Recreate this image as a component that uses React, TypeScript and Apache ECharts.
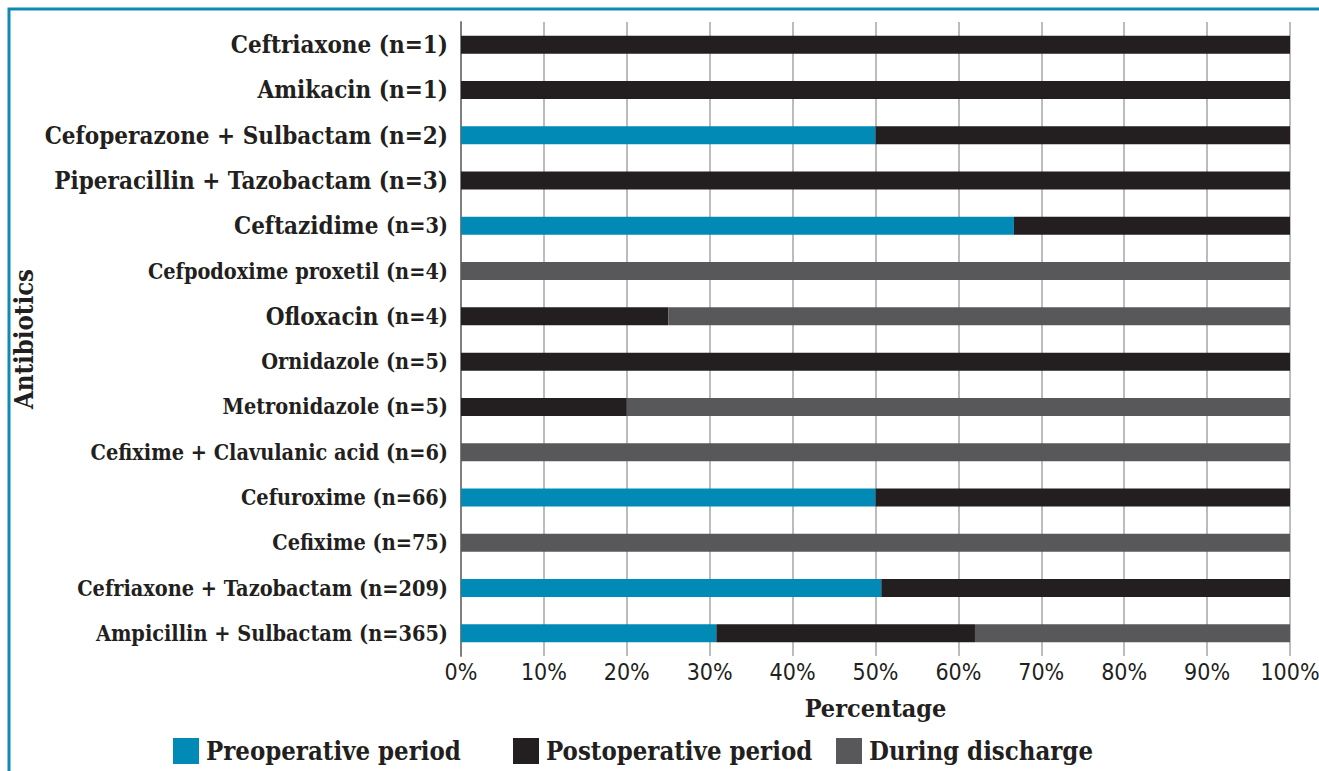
import React, { useEffect, useRef } from "react";
import * as echarts from "echarts";

const drugs = [
  "Ceftriaxone",
  "Amikacin",
  "Cefoperazone + Sulbactam",
  "Piperacillin + Tazobactam",
  "Ceftazidime",
  "Cefpodoxime proxetil",
  "Ofloxacin",
  "Ornidazole",
  "Metronidazole",
  "Cefixime + Clavulanic acid",
  "Cefuroxime",
  "Cefixime",
  "Cefriaxone + Tazobactam",
  "Ampicillin + Sulbactam",
];
const counts = [1, 1, 2, 3, 3, 4, 4, 5, 5, 6, 66, 75, 209, 365];
const preoperative = [0, 0, 50, 0, 66.7, 0, 0, 0, 0, 0, 50, 0, 50.7, 30.8];
const postoperative = [100, 100, 50, 100, 33.3, 0, 25, 100, 20, 0, 50, 0, 49.3, 31.2];
const discharge = [0, 0, 0, 0, 0, 100, 75, 0, 80, 100, 0, 100, 0, 38.0];
const seriesNames = ["Preoperative period", "Postoperative period", "During discharge"];

// label style keys per row (name part, count part)
const nameStyle = ["b", "b", "b", "b", "b", "s", "b", "s", "s", "s", "s", "s", "s", "s"];
const countStyle = ["b", "b", "b", "b", "s", "s", "s", "s", "s", "s", "s", "s", "s", "s"];

const SERIF = "'DejaVu Serif Condensed', 'DejaVu Serif', serif";
const NARROW = "'Liberation Sans Narrow', 'DejaVu Sans Condensed', 'Roboto', sans-serif";
const INK = "#231f20";
const COLORS = ["#008ab5", "#231f20", "#58585a"];

export default function App() {
  const ref = useRef<HTMLDivElement>(null);
  useEffect(() => {
    if (!ref.current) return;
    const chart = echarts.init(ref.current, undefined, { renderer: "svg" });
    const categories = drugs.map((d, i) => `${d}|(n=${counts[i]})`);
    const lists = [preoperative, postoperative, discharge];
    chart.setOption({
      animation: false,
      backgroundColor: "#ffffff",
      graphic: [
        {
          type: "rect",
          shape: { x: 9, y: 9, width: 1400, height: 900 },
          style: { fill: "none", stroke: "#0e8ab5", lineWidth: 3 },
          silent: true,
        },
      ],
      grid: {
        left: 461,
        right: 29,
        top: 22,
        bottom: 115,
        containLabel: false,
        outerBoundsMode: "none",
      },
      legend: seriesNames.map((n, i) => ({
        data: [n],
        left: [173, 513, 836][i],
        top: 738,
        padding: 0,
        itemWidth: 26,
        itemHeight: 26,
        itemGap: 0,
        icon: "rect",
        textStyle: { fontFamily: SERIF, fontWeight: "bold", fontSize: 25.5, color: INK, padding: [0, 0, 0, 2] },
      })),
      xAxis: {
        type: "value",
        min: 0,
        max: 100,
        interval: 10,
        name: "Percentage",
        nameLocation: "middle",
        nameGap: 40,
        nameMoveOverlap: false,
        nameTextStyle: { fontFamily: SERIF, fontWeight: "bold", fontSize: 25, color: INK },
        axisLine: { show: false },
        axisTick: { show: false },
        axisLabel: {
          formatter: "{value}%",
          fontFamily: NARROW,
          fontSize: 23,
          color: INK,
          margin: 4,
        },
        splitLine: { show: true, lineStyle: { color: "#a6a6a6", width: 1.5 } },
      },
      yAxis: {
        type: "category",
        inverse: true,
        data: categories,
        name: "Antibiotics",
        nameLocation: "middle",
        nameGap: 424,
        nameMoveOverlap: false,
        nameTextStyle: { fontFamily: SERIF, fontWeight: "bold", fontSize: 25.5, color: INK },
        axisLine: { show: true, lineStyle: { color: "#7f7f7f", width: 2 } },
        axisTick: { show: false },
        axisLabel: {
          margin: 13,
          formatter: (v: string) => {
            const idx = categories.indexOf(v);
            const [name, cnt] = v.split("|");
            return `{${nameStyle[idx]}|${name} }{${countStyle[idx]}|${cnt}}`;
          },
          rich: {
            b: { fontFamily: SERIF, fontWeight: "bold", fontSize: 24, color: INK },
            s: { fontFamily: SERIF, fontWeight: "bold", fontSize: 21.5, color: INK },
          },
        },
      },
      series: seriesNames.map((n, i) => ({
        name: n,
        type: "bar",
        stack: "total",
        barWidth: 18,
        itemStyle: { color: COLORS[i] },
        data: lists[i],
      })),
    });
    return () => chart.dispose();
  }, []);
  return (
    <div
      ref={ref}
      style={{ position: "fixed", left: 0, top: 0, width: 1319, height: 771 }}
    />
  );
}
